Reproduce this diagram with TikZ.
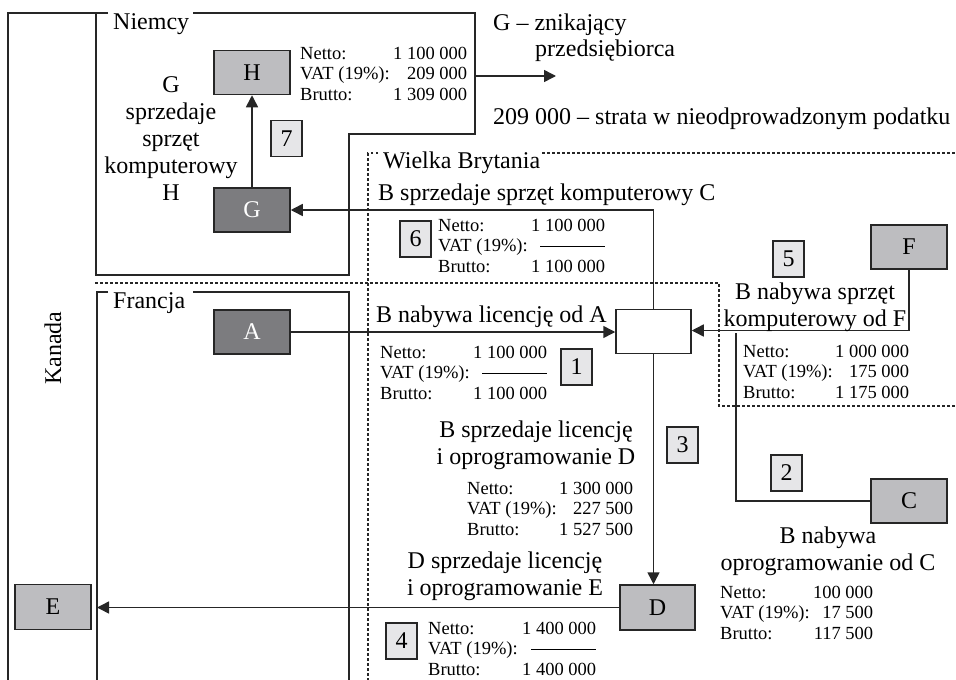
\documentclass[tikz,border=0pt]{standalone}
\usepackage{fontspec}
\setmainfont{Liberation Serif}
\usetikzlibrary{arrows.meta}

\definecolor{darkfill}{HTML}{7C7C7F}
\definecolor{lightfill}{HTML}{BDBDC0}
\definecolor{numfill}{HTML}{E6E6E8}
\definecolor{ink}{HTML}{262626}

\newcommand{\largetxt}{\fontsize{24}{27}\selectfont}
\newcommand{\smalltxt}{\fontsize{18.5}{20.7}\selectfont}
% one line of an amount table: label on the left, value flush right
\newcommand{\amountrow}[3]{\makebox[#1]{#2\hfill #3}}
% empty VAT value
\newcommand{\novat}{\raisebox{0.3em}{\rule{65pt}{0.6pt}}}
\newcommand{\amounts}[4]{\amountrow{#1}{Netto:}{#2}\\\amountrow{#1}{VAT (19\%):}{#3}\\\amountrow{#1}{Brutto:}{#4}}

\tikzset{
  regionline/.style={draw=ink, line width=1.5pt},
  dotline/.style={draw=ink, line width=1.3pt, dash pattern=on 2.5pt off 2.5pt},
  ent/.style={draw=ink, line width=1.5pt, minimum width=76pt, minimum height=44pt, inner sep=0pt, font=\largetxt},
  darkent/.style={ent, fill=darkfill, text=white},
  lightent/.style={ent, fill=lightfill},
  plainent/.style={ent, fill=white},
  numbox/.style={draw=ink, line width=1.3pt, fill=numfill, minimum width=31pt, minimum height=36pt, inner sep=0pt, font=\largetxt},
  flow/.style={draw=ink, line width=1.5pt},
  arr/.style={flow, -{Triangle[length=12pt,width=12pt]}},
  txt/.style={font=\largetxt, inner sep=0pt},
  % amount tables are placed by the baseline of their last line
  vals/.style={font=\smalltxt, inner sep=0pt, align=left, anchor=base west},
}

\begin{document}
\begin{tikzpicture}[x=1pt,y=-1pt]
\useasboundingbox (0,0) rectangle (956,680);

% ---- country regions ----
\draw[regionline] (96,13) -- (8,13) -- (8,682);
\draw[regionline] (108,13) -- (96,13) -- (96,275) -- (349,275) -- (349,134) -- (475,134) -- (475,13) -- (193,13);
\draw[regionline] (108,292) -- (97,292) -- (97,682);
\draw[regionline] (193,292) -- (349,292) -- (349,682);
\draw[dotline] (95,283) -- (719,283) -- (719,406) -- (957,406);
\draw[dotline] (378,153) -- (368,153) -- (368,682);
\draw[dotline] (542,153) -- (957,153);

\node[txt, anchor=base west] (niemcy) at (113,29.5) {Niemcy};
\node[txt, anchor=base west] (francja) at (113,308) {Francja};
\node[txt, anchor=base west] (wb) at (383,168) {Wielka Brytania};
\node[txt, rotate=90] (kanada) at (53,348) {Kanada};

% ---- entities ----
\node[lightent] (H) at (252,72.5) {H};
\node[darkent] (G) at (252,210) {G};
\node[darkent] (A) at (252,332) {A};
\node[plainent, minimum width=75pt] (B) at (653.5,331.5) {};
\node[lightent, minimum width=75pt, minimum height=45pt] (D) at (657.5,607.5) {D};
\node[lightent, minimum height=45pt] (E) at (53,607) {E};
\node[lightent] (F) at (909,247) {F};
\node[lightent] (C) at (909,501) {C};

% ---- step numbers ----
\node[numbox] (n7) at (286.5,138.5) {7};
\node[numbox] (n6) at (415.5,239) {6};
\node[numbox] (n5) at (788.5,259) {5};
\node[numbox] (n1) at (576.5,367) {1};
\node[numbox] (n3) at (682.5,445) {3};
\node[numbox] (n2) at (786.5,473) {2};
\node[numbox] (n4) at (401.5,641) {4};

% ---- flows ----
\coordinate (gout) at (475,76);
\coordinate (gend) at (556,76);
\coordinate (cjoin) at (736,332.5);
\coordinate (edge) at (97,607.5);
\draw[arr] (G.north) -- (H.south);
\draw[arr] (B.north) |- (G.east);
\draw[arr] (A.east) -- (A.east -| B.west);
\draw[arr] (F.south) |- ([yshift=1pt]B.east);
\draw[flow] (C.west) -| (cjoin);
\draw[arr] (B.south) -- (B.south |- D.north);
\draw[arr] (D.west) -- (edge);
\draw[arr] (gout) -- (gend);

% ---- descriptions (multi-line ones placed by their last baseline) ----
\node[txt, anchor=base west] (gvan) at (493,30) {G – znikający};
\node[txt, anchor=base west] (gvan2) at (535,56) {przedsiębiorca};
\node[txt, anchor=base west] (loss) at (493,124) {209 000 – strata w nieodprowadzonym podatku};
\node[txt, anchor=base, align=center] (gsells) at (171,200) {G\\sprzedaje\\sprzęt\\komputerowy\\H};
\node[txt, anchor=base west] (bsellsc) at (378,200) {B sprzedaje sprzęt komputerowy C};
\node[txt, anchor=base west] (bbuysa) at (376,322.5) {B nabywa licencję od A};
\node[txt, anchor=base, align=center] (bsellsd) at (536,464) {B sprzedaje licencję\\i oprogramowanie D};
\node[txt, anchor=base, align=center] (dsellse) at (505,595) {D sprzedaje licencję\\i oprogramowanie E};
\node[txt, anchor=base, align=center] (bbuysf) at (815,326) {B nabywa sprzęt\\komputerowy od F};
\node[txt, anchor=base, align=center] (bbuysc) at (828,570) {B nabywa\\oprogramowanie od C};

% ---- amounts ----
\node[vals] (vh) at (300,100.4) {\amounts{167pt}{1 100 000}{209 000}{1 309 000}};
\node[vals] (v6) at (438,272.4) {\amounts{167pt}{1 100 000}{\novat}{1 100 000}};
\node[vals] (v1) at (380,399.4) {\amounts{167pt}{1 100 000}{\novat}{1 100 000}};
\node[vals] (v3) at (467,535.4) {\amounts{166pt}{1 300 000}{227 500}{1 527 500}};
\node[vals] (v4) at (428,675.4) {\amounts{168pt}{1 400 000}{\novat}{1 400 000}};
\node[vals] (v5) at (743,398.4) {\amounts{166pt}{1 000 000}{175 000}{1 175 000}};
\node[vals] (v2) at (720,639.4) {\amounts{153pt}{100 000}{17 500}{117 500}};
\end{tikzpicture}
\end{document}
